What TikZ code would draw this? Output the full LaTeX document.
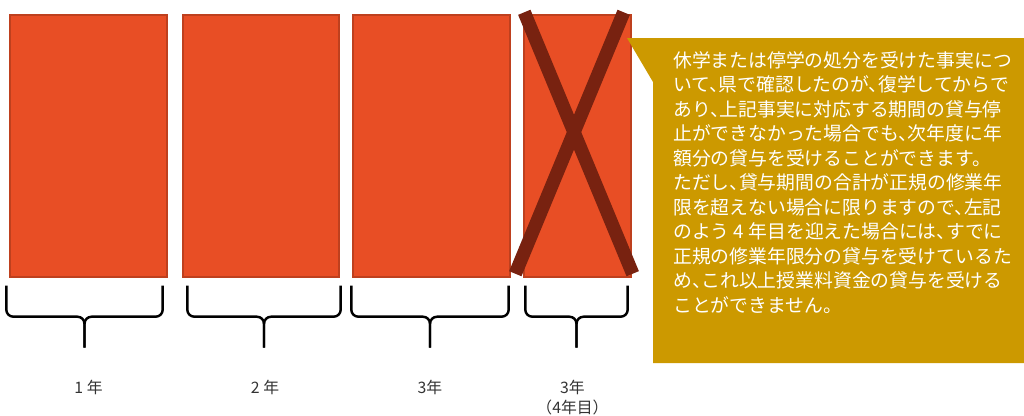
\documentclass[tikz,border=0pt]{standalone}
\usepackage{fontspec}
\setmainfont{Noto Sans CJK JP}[CharacterWidth=AlternateHalf]
\usepackage{tikz}
\usetikzlibrary{positioning,calc}
\definecolor{yrorange}{RGB}{232,78,37}
\definecolor{yredge}{RGB}{190,64,30}
\definecolor{yrcross}{RGB}{120,34,16}
\definecolor{notegold}{RGB}{204,153,0}
\definecolor{labelgray}{RGB}{51,51,51}
\tikzstyle{yearbox} = [rectangle, draw=yredge, fill=yrorange, line width=0.8pt, minimum height=52.4mm, inner sep=0pt]
\tikzstyle{crossline} = [line width=7.6pt, color=yrcross]
\tikzstyle{bracket} = [line width=1.4pt, rounded corners=4pt, black]
\tikzstyle{yearlabel} = [font=\fontsize{9}{11}\selectfont, text=labelgray, align=center, inner sep=0pt]
\tikzstyle{notetext} = [font=\fontsize{10.7}{13.95}\selectfont, text=white, align=left, inner sep=0pt]

\begin{document}
\begin{tikzpicture}[x=0.2mm, y=-0.2mm]
\useasboundingbox (0,0) rectangle (1024,416);

% Year boxes
\node[yearbox, minimum width=31.4mm] (year1) at (88.5,146) {};
\node[yearbox, minimum width=31.2mm] (year2) at (261,146) {};
\node[yearbox, minimum width=31.4mm] (year3) at (431.5,146) {};
\node[yearbox, minimum width=21.4mm] (year4) at (577.5,146) {};

% Cross over the 4th year
\draw[crossline] ($(year4.north west)+(1,-2)$) -- ($(year4.south east)+(1,-4)$);
\draw[crossline] ($(year4.north east)+(-8,-2)$) -- ($(year4.south west)+(-8,-4)$);

% Braces under the boxes
\foreach \n/\dl/\dr in {1/-3/-5, 2/5/1, 3/-1/-2, 4/2/-4} {
  \coordinate (bl\n) at ($(year\n.south west)+(\dl,8)$);
  \coordinate (br\n) at ($(year\n.south east)+(\dr,8)$);
  \coordinate (tip\n) at ($(bl\n)!0.5!(br\n)+(0,62)$);
  \draw[bracket] (bl\n) |- ($(tip\n)+(0,-31)$) -- (tip\n);
  \draw[bracket] (br\n) |- ($(tip\n)+(0,-31)$) -- (tip\n);
}

% Year labels
\node[yearlabel] (lab1) at ($(tip1)+(4,40)$) {1 年};
\node[yearlabel] (lab2) at ($(tip2)+(1,40)$) {2 年};
\node[yearlabel] (lab3) at ($(tip3)+(0,40)$) {3年};
\node[yearlabel] (lab4) at ($(tip4)+(-4,50)$) {3年\\（4年目）};

% Callout
\fill[notegold] (627,38) -- (1024,38) -- (1024,363) -- (653,363) -- (653,82) -- cycle;
\node[notetext, anchor=north west] (note) at (673,51) {%
休学または停学の処分を受けた事実につ\\
いて、県で確認したのが、復学してからで\\
あり、上記事実に対応する期間の貸与停\\
止ができなかった場合でも、次年度に年\\
額分の貸与を受けることができます。\\
ただし、貸与期間の合計が正規の修業年\\
限を超えない場合に限りますので、左記\\
のよう 4 年目を迎えた場合には、すでに\\
正規の修業年限分の貸与を受けているた\\
め、これ以上授業料資金の貸与を受ける\\
ことができません。};
\end{tikzpicture}
\end{document}
